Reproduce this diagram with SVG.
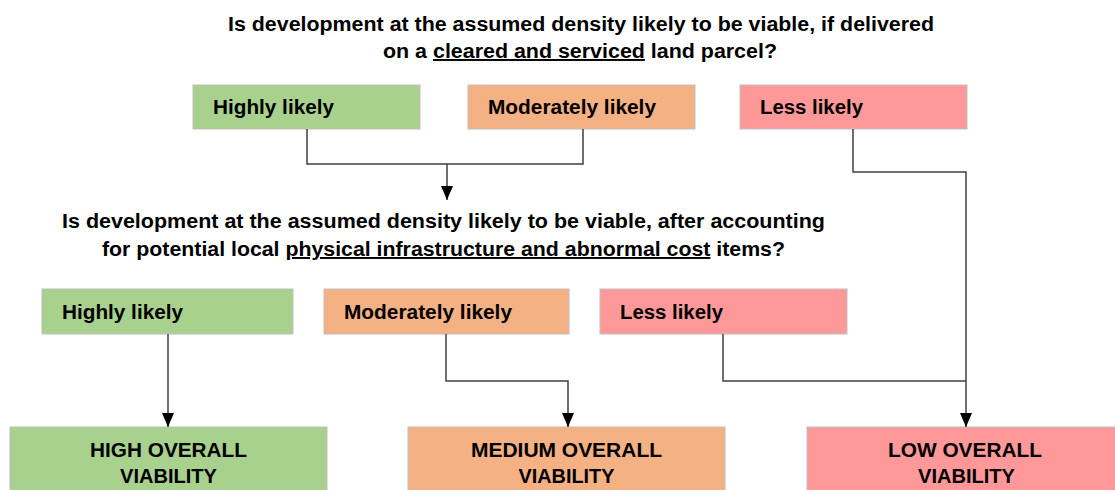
<svg xmlns="http://www.w3.org/2000/svg" width="1115" height="490" viewBox="0 0 1115 490">
<style>
text{font-family:"Liberation Sans",Arial,sans-serif;font-weight:bold;fill:#000}
.q{font-size:19.5px}
.b{font-size:19.5px}
.g{fill:#A9D18E;stroke:#BFBFBF;stroke-width:1}
.o{fill:#F4B183;stroke:#BFBFBF;stroke-width:1}
.p{fill:#FF9999;stroke:#BFBFBF;stroke-width:1}
.c{fill:none;stroke:#404040;stroke-width:1.5}
</style>
<defs>
<marker id="ah" markerWidth="14" markerHeight="12" refX="14" refY="6" orient="auto" markerUnits="userSpaceOnUse" viewBox="0 0 14 12">
<path d="M0,0 L14,6 L0,12 Z" fill="#000"/>
</marker>
</defs>
<rect width="1115" height="490" fill="#fff"/>
<g id="q1">
<text class="q" x="228" y="31" textLength="706" lengthAdjust="spacingAndGlyphs">Is development at the assumed density likely to be viable, if delivered</text>
<text class="q" x="383" y="58" textLength="394" lengthAdjust="spacingAndGlyphs">on a <tspan text-decoration="underline">cleared and serviced</tspan> land parcel?</text>
</g>
<g id="top-high"><rect class="g" x="193" y="85" width="227" height="44"/><text class="b" x="213" y="114" textLength="121" lengthAdjust="spacingAndGlyphs">Highly likely</text></g>
<g id="top-mod"><rect class="o" x="468" y="85" width="227" height="44"/><text class="b" x="488" y="114" textLength="168" lengthAdjust="spacingAndGlyphs">Moderately likely</text></g>
<g id="top-less"><rect class="p" x="740" y="85" width="227" height="44"/><text class="b" x="760" y="114" textLength="103" lengthAdjust="spacingAndGlyphs">Less likely</text></g>
<g id="q2">
<text class="q" x="62" y="228" textLength="763" lengthAdjust="spacingAndGlyphs">Is development at the assumed density likely to be viable, after accounting</text>
<text class="q" x="102" y="256" textLength="683" lengthAdjust="spacingAndGlyphs">for potential local <tspan text-decoration="underline">physical infrastructure and abnormal cost</tspan> items?</text>
</g>
<g id="mid-high"><rect class="g" x="42" y="289" width="251" height="45"/><text class="b" x="62" y="319" textLength="121" lengthAdjust="spacingAndGlyphs">Highly likely</text></g>
<g id="mid-mod"><rect class="o" x="324" y="289" width="245" height="45"/><text class="b" x="344" y="319" textLength="168" lengthAdjust="spacingAndGlyphs">Moderately likely</text></g>
<g id="mid-less"><rect class="p" x="600" y="289" width="247" height="45"/><text class="b" x="620" y="319" textLength="103" lengthAdjust="spacingAndGlyphs">Less likely</text></g>
<g id="res-high"><rect class="g" x="10" y="427" width="317" height="66"/><text class="b" x="168.5" y="457" text-anchor="middle" textLength="157" lengthAdjust="spacingAndGlyphs">HIGH OVERALL</text><text class="b" x="168.5" y="483" text-anchor="middle" textLength="97" lengthAdjust="spacingAndGlyphs">VIABILITY</text></g>
<g id="res-med"><rect class="o" x="408" y="427" width="317" height="66"/><text class="b" x="566.5" y="457" text-anchor="middle" textLength="191" lengthAdjust="spacingAndGlyphs">MEDIUM OVERALL</text><text class="b" x="566.5" y="483" text-anchor="middle" textLength="96" lengthAdjust="spacingAndGlyphs">VIABILITY</text></g>
<g id="res-low"><rect class="p" x="807" y="427" width="310" height="66"/><text class="b" x="965" y="457" text-anchor="middle" textLength="154" lengthAdjust="spacingAndGlyphs">LOW OVERALL</text><text class="b" x="966.5" y="483" text-anchor="middle" textLength="97" lengthAdjust="spacingAndGlyphs">VIABILITY</text></g>
<g id="connectors">
<path class="c" d="M307,129 V164 H583 V129"/>
<path class="c" d="M447,164 V200" marker-end="url(#ah)"/>
<path class="c" d="M853,129 V172 H966 V427" marker-end="url(#ah)"/>
<path class="c" d="M168,334 V427" marker-end="url(#ah)"/>
<path class="c" d="M446,334 V381 H568 V427" marker-end="url(#ah)"/>
<path class="c" d="M723,334 V381 H966"/>
</g>
</svg>
